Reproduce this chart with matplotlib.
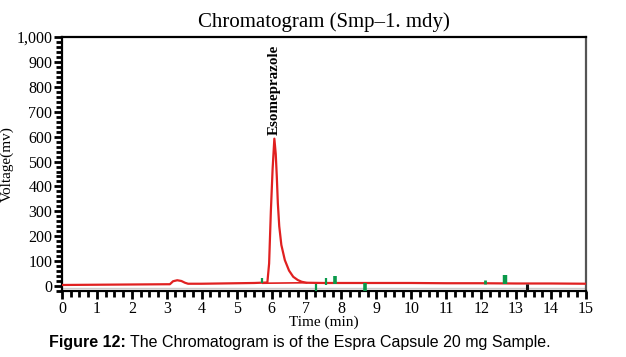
import numpy as np
import matplotlib
matplotlib.use("Agg")
import matplotlib.pyplot as plt
from matplotlib.ticker import MultipleLocator, FuncFormatter

# chromatogram trace (min, mV)
time = [0, 1, 2, 3.0, 3.09, 3.18, 3.3, 3.42, 3.52, 3.61, 4, 5, 5.5, 5.88,
        5.93, 5.98, 6.03, 6.08, 6.12, 6.15, 6.18, 6.22, 6.28, 6.38, 6.5,
        6.62, 6.75, 6.86, 7.0, 7.5, 8, 9, 10, 11, 12, 13, 14, 15]
voltage = [4, 5, 6, 7, 7, 19, 23, 20, 13, 9, 9, 11, 12, 14,
           90, 300, 470, 592, 530, 440, 332, 240, 165, 104, 62,
           37, 24, 17, 13, 12, 12, 12, 12, 11, 11, 10, 10, 9]

# integration baseline under the main peak
base_time = [5.75, 7.0]
base_volt = [11, 13]

# event markers
marker_time = [5.74, 7.27, 7.56, 7.81, 8.68, 12.12, 12.68, 13.32]
marker_lo = [12, -19, 5, 8, -20, 8, 8, -18]
marker_hi = [31, 7, 31, 41, 13, 24, 44, 8]
marker_colors = ["#0a9a4a"] * 7 + ["#111111"]
marker_widths = [1.6, 1.6, 1.6, 2.6, 2.6, 2.0, 3.2, 2.2]

peak_name = "Esomeprazole"
peak_time = 6.08

serif = "Liberation Serif"

fig = plt.figure(figsize=(6.26, 3.57), dpi=100)
ax = fig.add_axes([0.099, 0.185, 0.837, 0.711])

ax.plot(time, voltage, color="#e02020", lw=1.6, zorder=3)
ax.plot(base_time, base_volt, color="#e02020", lw=1.2, zorder=3)
ax.axhline(-8, color="#cccccc", lw=1.0, zorder=1)

for t, lo, hi, c, w in zip(marker_time, marker_lo, marker_hi, marker_colors, marker_widths):
    ax.vlines(t, lo, hi, colors=c, lw=w, zorder=4, clip_on=False)

ax.text(peak_time, 605, peak_name, rotation=90, ha="center", va="bottom",
        family=serif, fontweight="bold", fontsize=10.8)

ax.set_xlim(0, 15)
ax.set_ylim(-20, 1000)
ax.xaxis.set_major_locator(MultipleLocator(1))
ax.xaxis.set_minor_locator(MultipleLocator(0.25))
ax.yaxis.set_minor_locator(MultipleLocator(20))
ax.set_yticks(np.arange(0, 1001, 100))
ax.yaxis.set_major_formatter(FuncFormatter(lambda v, p: f"{int(v):,}"))

ax.tick_params(which="major", direction="out", length=6, width=2, color="black",
               labelsize=11.5, pad=1)
ax.tick_params(which="minor", direction="out", length=4, width=2, color="black")
for lab in ax.get_xticklabels() + ax.get_yticklabels():
    lab.set_family(serif)

for side in ["left", "bottom", "top"]:
    ax.spines[side].set_color("black")
    ax.spines[side].set_linewidth(1.6)
ax.spines["right"].set_color("#555555")
ax.spines["right"].set_linewidth(1.6)

ax.set_title("Chromatogram (Smp\u20131. mdy)", family=serif, fontsize=15, pad=7)
ax.set_xlabel("Time (min)", family=serif, fontsize=11, labelpad=-1)
ax.set_ylabel("Voltage(mv)", family=serif, fontsize=11, labelpad=2)

fig.text(49 / 626, 0.04, "Figure 12:", family="Liberation Sans", fontweight="bold",
         fontsize=11.5, ha="left", va="center")
fig.text(130 / 626, 0.04, "The Chromatogram is of the Espra Capsule 20 mg Sample.",
         family="Liberation Sans", fontsize=11.5, ha="left", va="center")

fig.savefig("out.png", dpi=100)
